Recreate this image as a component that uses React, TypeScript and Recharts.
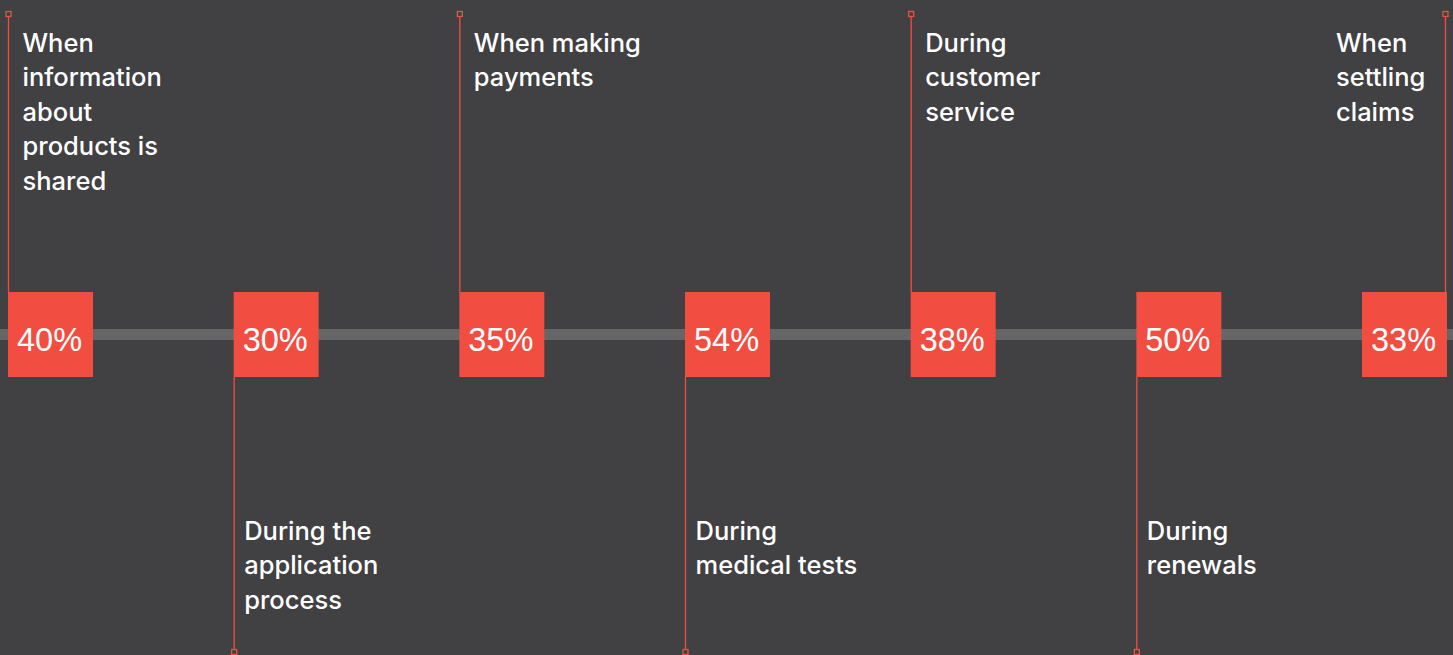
import React from 'react';
import { ComposedChart, Scatter, XAxis, YAxis, ReferenceLine } from 'recharts';

const stages = [
  ['When', 'information', 'about', 'products is', 'shared'],
  ['During the', 'application', 'process'],
  ['When making', 'payments'],
  ['During', 'medical tests'],
  ['During', 'customer', 'service'],
  ['During', 'renewals'],
  ['When', 'settling', 'claims'],
];
const shares = [40, 30, 35, 54, 38, 50, 33];

const chartData = shares.map((value, i) => ({ idx: i, pos: 0, value, label: stages[i] }));

const W = 1453;
const H = 655;
const BG = '#414042';
const RED = '#f24d41';
const LABEL_FONT = 'Inter, "Liberation Sans", Arial, sans-serif';
const NUM_FONT = '"Liberation Sans", Arial, Helvetica, sans-serif';
const BOX = 85;

const StageMark = (props: any) => {
  const { cx, cy, payload } = props;
  const i = payload.idx;
  const last = i === shares.length - 1;
  const up = i % 2 === 0;
  const left = cx - BOX / 2;
  const top = cy - BOX / 2;
  const lineX = last ? left + BOX - 1.5 : left + 0.5;
  const lineTop = up ? 17 : top + BOX;
  const lineBottom = up ? top : H - 6;
  const markerY = up ? 14 : H - 3;
  const textX = last ? left - 26 : up ? lineX + 14 : lineX + 10;
  const firstBase = up ? 51.5 : 539.5;
  return (
    <g>
      <line x1={lineX} x2={lineX} y1={lineTop} y2={lineBottom} stroke={RED} strokeWidth={1.3} />
      <rect x={lineX - 2.5} y={markerY - 2.5} width={5} height={5} fill="none" stroke={RED} strokeWidth={1.3} />
      <rect x={left} y={top} width={BOX} height={BOX} fill={RED} />
      <text x={cx - 1} y={cy + 16} textAnchor="middle" fill="#fff" fontSize={32.5} fontFamily={NUM_FONT}>
        {payload.value}%
      </text>
      {payload.label.map((t: string, k: number) => (
        <text key={k} x={textX} y={firstBase + k * 34.5} fill="#fff" fontSize={25.5} fontWeight={500} fontFamily={LABEL_FONT}>
          {t}
        </text>
      ))}
    </g>
  );
};

export default function App() {
  const firstCx = 50.5;
  const lastCx = 1404.5;
  const step = (lastCx - firstCx) / (shares.length - 1);
  const d0 = -firstCx / step;
  const d1 = d0 + W / step;
  return (
    <div style={{ width: W, height: H, background: BG }}>
      <style>{'body{margin:0;background:' + BG + '}'}</style>
      <ComposedChart width={W} height={H} data={chartData} margin={{ top: 0, right: 0, bottom: 0, left: 0 }}>
        <XAxis type="number" dataKey="idx" domain={[d0, d1]} hide allowDataOverflow />
        <YAxis type="number" dataKey="pos" domain={[-(H - 334.5), 334.5]} hide allowDataOverflow />
        <ReferenceLine y={0} stroke="#666667" strokeWidth={11} ifOverflow="extendDomain" />
        <Scatter data={chartData} dataKey="pos" shape={StageMark} isAnimationActive={false} />
      </ComposedChart>
    </div>
  );
}
